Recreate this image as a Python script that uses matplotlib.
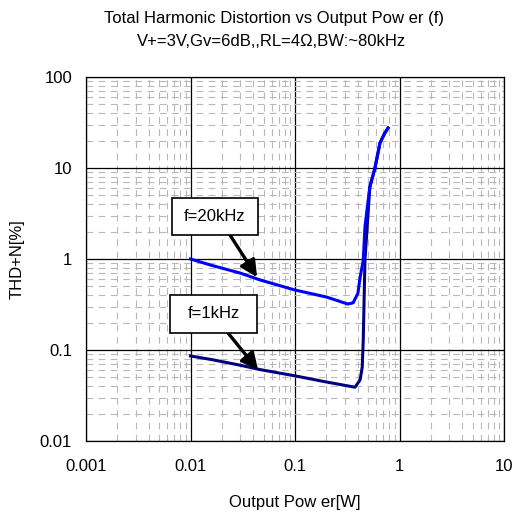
import matplotlib
matplotlib.use("Agg")
import matplotlib.pyplot as plt
from matplotlib.patches import Rectangle
from matplotlib.ticker import LogLocator, FixedLocator, NullFormatter

plt.rcParams['font.family'] = ['Liberation Sans', 'DejaVu Sans']

p_20k = [0.01, 0.016, 0.03, 0.046, 0.1, 0.2, 0.32, 0.36, 0.40, 0.42, 0.45, 0.467, 0.52, 0.58, 0.65, 0.72, 0.777]
thd_20k = [1.0, 0.85, 0.7, 0.59, 0.456, 0.382, 0.32, 0.33, 0.42, 0.63, 0.97, 2.25, 6.2, 9.8, 18.8, 24.0, 27.5]

p_1k = [0.01, 0.0164, 0.03, 0.046, 0.1, 0.2, 0.375, 0.42, 0.44, 0.45, 0.467, 0.52, 0.58, 0.65, 0.72, 0.777]
thd_1k = [0.086, 0.078, 0.068, 0.061, 0.052, 0.0445, 0.039, 0.047, 0.065, 0.13, 0.97, 6.2, 9.8, 18.8, 24.0, 27.5]

x_ticks = [0.001, 0.01, 0.1, 1, 10]
x_labels = ['0.001', '0.01', '0.1', '1', '10']
y_ticks = [0.01, 0.1, 1, 10, 100]
y_labels = ['0.01', '0.1', '1', '10', '100']

W = H = 515
fig = plt.figure(figsize=(W/100, H/100), dpi=100)
ax = fig.add_axes([86/W, 1 - 441/H, (504-86)/W, (441-77)/H])
ax.set_xscale('log')
ax.set_yscale('log')
ax.set_xlim(0.001, 10)
ax.set_ylim(0.01, 100)

ax.xaxis.set_major_locator(FixedLocator(x_ticks))
ax.yaxis.set_major_locator(FixedLocator(y_ticks))
ax.set_xticklabels(x_labels)
ax.set_yticklabels(y_labels)
ax.xaxis.set_minor_locator(LogLocator(base=10, subs=range(2, 10), numticks=20))
ax.yaxis.set_minor_locator(LogLocator(base=10, subs=range(2, 10), numticks=20))
ax.xaxis.set_minor_formatter(NullFormatter())
ax.yaxis.set_minor_formatter(NullFormatter())
ax.tick_params(which='both', length=0, labelsize=12)
ax.tick_params(axis='x', pad=13)
ax.tick_params(axis='y', pad=10)

ax.grid(which='minor', color='#b8b8b8', linestyle=(0, (6, 5)), linewidth=0.8)
ax.grid(which='major', color='black', linestyle='-', linewidth=0.9)
ax.set_axisbelow(True)
for s in ax.spines.values():
    s.set_linewidth(0.9)

ax.plot(p_1k, thd_1k, color='#000080', linewidth=2.2, zorder=3)
ax.plot(p_20k, thd_20k, color='#0000ff', linewidth=2.2, zorder=4)

def label_box(text, x0, y0, x1, y1, ax_start, tip):
    rect = Rectangle((x0/W, 1 - y1/H), (x1-x0)/W, (y1-y0)/H, transform=fig.transFigure,
                     facecolor='white', edgecolor='black', linewidth=1.2, zorder=5)
    fig.add_artist(rect)
    fig.text((x0+x1)/2/W, 1 - (y0+y1)/2/H, text, ha='center', va='center', fontsize=12, zorder=6)
    ax.annotate('', xy=tip, xycoords='data', xytext=(ax_start[0], H - ax_start[1]),
                textcoords='figure pixels',
                arrowprops=dict(arrowstyle='-|>,head_length=1.0,head_width=0.5', color='black',
                                lw=2.4, shrinkA=0, shrinkB=0), zorder=6)

label_box('f=20kHz', 172, 198, 258, 235, (230, 235), (0.0434, 0.63))
label_box('f=1kHz', 170, 295, 257, 333, (228, 333), (0.0443, 0.0604))

fig.text(274/W, 1 - 19/H, 'Total Harmonic Distortion vs Output Pow er (f)', ha='center', va='center', fontsize=12)
fig.text(271/W, 1 - 42/H, 'V+=3V,Gv=6dB,,RL=4\u03a9,BW:~80kHz', ha='center', va='center', fontsize=12)
fig.text(0.5 * (86 + 504) / W, 1 - 502/H, 'Output Pow er[W]', ha='center', va='center', fontsize=12)
fig.text(17/W, 1 - 259/H, 'THD+N[%]', ha='center', va='center', rotation=90, fontsize=12)

fig.savefig('out.png', dpi=100)
